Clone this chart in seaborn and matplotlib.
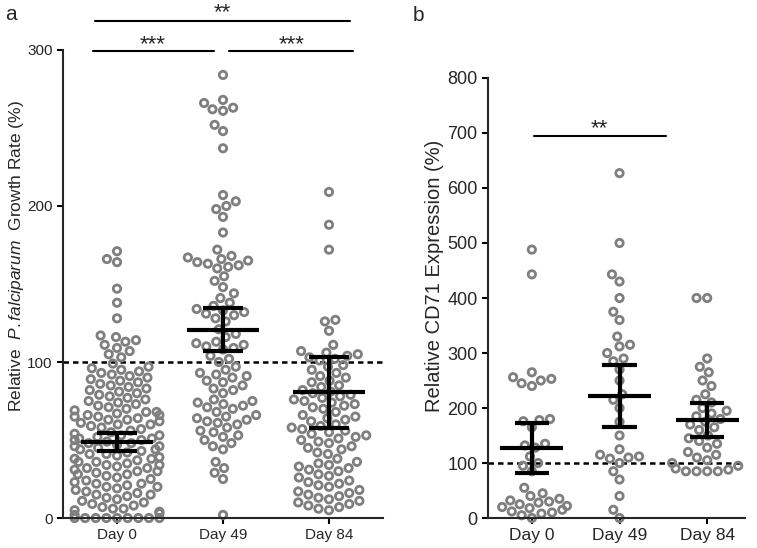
import numpy as np
import pandas as pd
import matplotlib
matplotlib.use('Agg')
import matplotlib.pyplot as plt
import seaborn as sns
import warnings

warnings.filterwarnings('ignore')

days = ['Day 0', 'Day 49', 'Day 84']

# panel a: relative P. falciparum growth rate (%)
growth_day0 = [171, 166, 164, 147, 138, 128,
               117, 116, 114, 113, 111, 109, 107, 105, 103,
               99, 97, 96, 95, 94, 93, 92, 91, 90, 89, 88, 87, 86, 85,
               84, 83, 82, 81, 80, 79, 78, 77, 76, 75, 74, 73, 72, 71, 70,
               69, 68, 68, 67, 66, 66, 65, 65, 64, 63, 63, 62, 61, 60, 60, 59, 58, 57, 56, 55,
               54, 53, 53, 52, 51, 51, 50, 50, 49, 48, 48, 47, 46, 46, 45, 44, 44, 43, 42, 41, 41, 40,
               39, 38, 38, 37, 36, 36, 35, 34, 34, 33, 32, 32, 31, 30, 30, 29, 28, 28, 27, 26, 25,
               24, 23, 22, 22, 21, 20, 20, 19, 18, 17, 16, 15, 15, 14, 13, 12, 11, 10,
               9, 8, 7, 6, 6, 5, 4, 3, 2,
               0, 0, 0, 0, 0, 0, 0, 0, 0]
growth_day49 = [284, 268, 266, 263, 261, 262, 252, 248, 237,
                207, 203, 200, 198, 193, 183, 172,
                168, 167, 166, 165, 164, 163, 162, 161, 160,
                155, 152, 148, 144, 141,
                138, 136, 134, 133, 132, 131, 130, 128, 126,
                121, 118, 116, 113, 112, 111, 110, 109, 108, 104, 102, 100,
                97, 95, 93, 92, 91, 90, 88, 87, 85, 83, 82, 80,
                76, 75, 74, 73, 72, 71, 70, 68, 66, 65, 64, 63, 62, 61, 60,
                58, 56, 55, 53, 52, 50, 48, 46, 44,
                36, 32, 29, 25, 2]
growth_day84 = [209, 188, 172,
                127, 126, 120, 111,
                107, 106, 105, 104, 103, 102, 101,
                98, 97, 95, 93, 91, 90, 88, 87, 85,
                84, 82, 81, 80, 79, 78, 77, 76, 75, 74, 73, 72, 71, 70,
                68, 66, 65, 64, 63, 62, 60, 59, 58, 57, 56, 55,
                54, 53, 52, 51, 50, 49, 48, 46, 45, 44, 42, 41,
                38, 36, 35, 34, 33, 32, 31, 30, 28, 27, 26, 24, 23, 22, 21, 20,
                18, 17, 16, 15, 14, 13, 12, 11, 10, 9, 8, 7, 6, 5]
growth_mean = [48.7, 120.5, 80.8]
growth_sem_lo = [43.0, 107.0, 57.7]
growth_sem_hi = [54.5, 134.6, 103.0]

# panel b: relative CD71 expression (%)
cd71_day0 = [488, 443, 265, 256, 253, 250, 245, 240, 180, 178, 176, 165,
             135, 132, 128, 112, 100, 95, 85, 55, 45, 40, 35, 32, 30, 28,
             25, 22, 20, 18, 15, 12, 10, 8, 5, 0]
cd71_day49 = [627, 500, 443, 430, 400, 375, 360, 330, 315, 312, 300, 290,
              285, 270, 250, 225, 215, 200, 175, 150, 125, 115, 112, 110,
              108, 100, 85, 70, 40, 15, 0]
cd71_day84 = [400, 400, 290, 275, 265, 250, 240, 225, 215, 210, 200, 195,
              190, 185, 180, 175, 170, 165, 160, 150, 145, 140, 135, 128,
              120, 115, 110, 105, 100, 95, 90, 88, 85, 85, 85, 85]
cd71_mean = [127, 222, 178]
cd71_sem_lo = [82, 166, 147]
cd71_sem_hi = [173, 278, 209]


def long_df(groups):
    rows = []
    for day, vals in zip(days, groups):
        for v in vals:
            rows.append({'day': day, 'value': v})
    return pd.DataFrame(rows)


sns.set_style('ticks')
plt.rcParams['font.family'] = ['Liberation Sans', 'DejaVu Sans']
plt.rcParams['mathtext.fontset'] = 'custom'
plt.rcParams['mathtext.rm'] = 'Liberation Sans'
plt.rcParams['mathtext.it'] = 'Liberation Sans:italic'

point_col = '#7f7f7f'


def draw_panel(ax, df, means, lo, hi, half_mean, half_cap, ysize, xsize):
    sns.swarmplot(data=df, x='day', y='value', order=days, ax=ax,
                  size=5.3, color='white', edgecolor=point_col,
                  linewidth=2.0, zorder=2)
    for c in ax.collections:
        c.set_facecolor('none')
        c.set_edgecolor(point_col)
        c.set_linewidth(2.0)
        c.set_clip_on(False)
    xs = np.arange(len(days))
    ax.axhline(100, color='black', lw=1.8, ls=(0, (2.2, 1.6)), zorder=1)
    ax.hlines(means, xs - half_mean, xs + half_mean, color='black', lw=3, zorder=3)
    ax.hlines(lo, xs - half_cap, xs + half_cap, color='black', lw=3, zorder=3)
    ax.hlines(hi, xs - half_cap, xs + half_cap, color='black', lw=3, zorder=3)
    ax.vlines(xs, lo, hi, color='black', lw=3, zorder=3)
    sns.despine(ax=ax)
    for s in ['left', 'bottom']:
        ax.spines[s].set_linewidth(1.5)
    ax.tick_params(axis='both', width=1.5, length=4, color='black')
    ax.tick_params(axis='y', labelsize=ysize)
    ax.tick_params(axis='x', labelsize=xsize)
    ax.set_xlabel('')


fig = plt.figure(figsize=(7.57, 5.48), dpi=100)
ax_a = fig.add_axes([0.0832, 0.0547, 0.4228, 0.8541])
ax_b = fig.add_axes([0.6447, 0.0547, 0.3393, 0.803])

draw_panel(ax_a, long_df([growth_day0, growth_day49, growth_day84]),
           growth_mean, growth_sem_lo, growth_sem_hi, 0.34, 0.185, 11, 11)
ax_a.set_ylim(0, 300)
ax_a.set_yticks([0, 100, 200, 300])
ax_a.set_xlim(-0.51, 2.51)
ax_a.set_ylabel(r'Relative  $\mathit{P.falciparum}$  Growth Rate (%)', fontsize=12.5, labelpad=1)
ax_a.yaxis.label.set_y(0.56)

draw_panel(ax_b, long_df([cd71_day0, cd71_day49, cd71_day84]),
           cd71_mean, cd71_sem_lo, cd71_sem_hi, 0.36, 0.195, 13, 12.5)
ax_b.set_ylim(0, 800)
ax_b.set_yticks(np.arange(0, 801, 100))
ax_b.set_xlim(-0.5, 2.43)
ax_b.set_ylabel('Relative CD71 Expression (%)', fontsize=14.5, labelpad=2)
ax_b.yaxis.label.set_y(0.55)

# significance brackets
ax_a.plot([-0.21, 2.2], [318.6, 318.6], color='black', lw=1.5, clip_on=False)
ax_a.text(0.995, 320.5, '**', ha='center', va='baseline', fontsize=16)
ax_a.plot([-0.23, 0.915], [299.4, 299.4], color='black', lw=1.5, clip_on=False)
ax_a.text(0.34, 299.8, '***', ha='center', va='baseline', fontsize=16)
ax_a.plot([1.06, 2.23], [299.4, 299.4], color='black', lw=1.5, clip_on=False)
ax_a.text(1.645, 299.8, '***', ha='center', va='baseline', fontsize=16)

ax_b.plot([0.02, 1.53], [695, 695], color='black', lw=1.5, clip_on=False)
ax_b.text(0.775, 697, '**', ha='center', va='baseline', fontsize=16)

fig.text(0.007, 0.9635, 'a', fontsize=15, va='baseline')
fig.text(0.545, 0.9617, 'b', fontsize=15, va='baseline')

fig.savefig('out.png', dpi=100)
